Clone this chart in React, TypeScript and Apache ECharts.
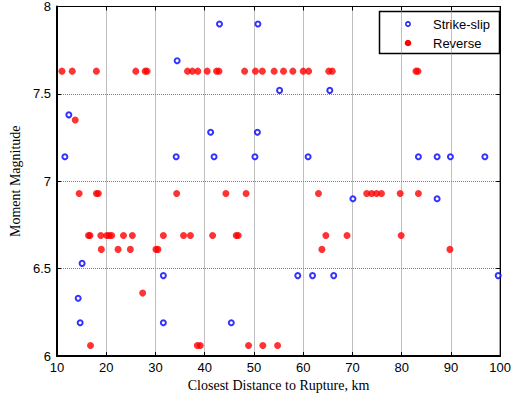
import React, { useEffect, useRef } from "react";
import * as echarts from "echarts";

const xTicks = [10, 20, 30, 40, 50, 60, 70, 80, 90, 100];
const yTicks = [6, 6.5, 7, 7.5, 8];

const seriesNames = ["Strike-slip", "Reverse"];

const strikeSlipDistance = [
  43.0, 50.8, 34.4, 55.2, 65.4, 12.4, 41.2, 50.7,
  11.6, 34.2, 41.9, 50.2, 61.0, 83.4, 87.2, 89.9, 96.9,
  70.1, 87.2, 15.1, 31.6, 58.9, 61.9, 66.2, 99.6,
  14.3, 14.7, 31.6, 45.4,
];
const strikeSlipMagnitude = [
  7.9, 7.9, 7.69, 7.52, 7.52, 7.38, 7.28, 7.28,
  7.14, 7.14, 7.14, 7.14, 7.14, 7.14, 7.14, 7.14, 7.14,
  6.9, 6.9, 6.53, 6.46, 6.46, 6.46, 6.46, 6.46,
  6.33, 6.19, 6.19, 6.19,
];

const reverseDistance = [
  11.0, 13.1, 18.0, 26.0, 27.9, 28.3, 36.5, 37.5, 38.6, 40.5, 42.4, 42.9,
  48.1, 50.3, 51.7, 54.1, 56.0, 57.9, 60.0, 61.1, 65.2, 65.9, 82.9, 83.3,
  13.7,
  14.5, 18.0, 18.4, 34.3, 44.3, 48.4, 63.1, 72.9, 73.9, 74.9, 75.9, 79.7, 83.4,
  16.4, 16.7, 18.9, 20.1, 20.6, 21.1, 23.5, 25.3, 31.6, 35.7, 37.1, 41.6,
  46.4, 46.8, 64.6, 68.9, 79.9,
  19.0, 22.4, 24.9, 30.1, 30.5, 63.8, 89.8,
  27.4,
  16.8, 38.5, 39.1, 48.9, 51.8, 54.8,
];
const reverseMagnitude = [
  7.63, 7.63, 7.63, 7.63, 7.63, 7.63, 7.63, 7.63, 7.63, 7.63, 7.63, 7.63,
  7.63, 7.63, 7.63, 7.63, 7.63, 7.63, 7.63, 7.63, 7.63, 7.63, 7.63, 7.63,
  7.35,
  6.93, 6.93, 6.93, 6.93, 6.93, 6.93, 6.93, 6.93, 6.93, 6.93, 6.93, 6.93, 6.93,
  6.69, 6.69, 6.69, 6.69, 6.69, 6.69, 6.69, 6.69, 6.69, 6.69, 6.69, 6.69,
  6.69, 6.69, 6.69, 6.69, 6.69,
  6.61, 6.61, 6.61, 6.61, 6.61, 6.61, 6.61,
  6.36,
  6.06, 6.06, 6.06, 6.06, 6.06, 6.06,
];

const SANS = "'Liberation Sans', Arial, sans-serif";
const SERIF = "'Liberation Serif', 'Times New Roman', serif";

const BLUE = "#0000ff";
const RED = "#ff0000";

export default function App() {
  const ref = useRef<HTMLDivElement>(null);

  useEffect(() => {
    if (!ref.current) return;
    const chart = echarts.init(ref.current, undefined, { renderer: "svg" });

    const ssData = strikeSlipDistance.map((d, i) => [d, strikeSlipMagnitude[i]]);
    const rvData = reverseDistance.map((d, i) => [d, reverseMagnitude[i]]);

    const xMin = xTicks[0];
    const xMax = xTicks[xTicks.length - 1];
    const xInt = xTicks[1] - xTicks[0];
    const yMin = yTicks[0];
    const yMax = yTicks[yTicks.length - 1];
    const yInt = yTicks[1] - yTicks[0];

    const gridLine = { show: true, lineStyle: { color: "#808080", type: [1, 1], width: 1 } };
    const legendText = { fontSize: 13, fontFamily: SANS, fill: "#000", verticalAlign: "middle", align: "left" };

    chart.setOption({
      animation: false,
      backgroundColor: "#fff",
      grid: {
        left: 57,
        right: 9,
        top: 5,
        bottom: 46,
        show: true,
        borderColor: "#000",
        borderWidth: 1,
        backgroundColor: "transparent",
      },
      graphic: [
        {
          type: "group",
          z: 100,
          children: [
            {
              type: "rect",
              shape: { x: 379.5, y: 11.5, width: 120, height: 42 },
              style: { fill: "#fff", stroke: "#000", lineWidth: 1.5 },
            },
            {
              type: "circle",
              shape: { cx: 408, cy: 24, r: 2.2 },
              style: { fill: "#fff", stroke: BLUE, lineWidth: 1.3 },
            },
            { type: "text", x: 433, y: 24.5, style: { ...legendText, text: seriesNames[0] } },
            {
              type: "circle",
              shape: { cx: 408, cy: 43, r: 3.3 },
              style: { fill: RED },
            },
            { type: "text", x: 433, y: 43.5, style: { ...legendText, text: seriesNames[1] } },
          ],
        },
      ],
      xAxis: [
        {
          type: "value",
          min: xMin,
          max: xMax,
          interval: xInt,
          position: "bottom",
          name: "Closest Distance to Rupture, km",
          nameLocation: "middle",
          nameGap: 22,
          nameTextStyle: { fontFamily: SERIF, fontSize: 14, color: "#000" },
          axisLine: { show: true, onZero: false, lineStyle: { color: "#000", width: 2 } },
          axisTick: { show: true, inside: true, length: 4, lineStyle: { color: "#000" } },
          axisLabel: { color: "#000", fontSize: 13, fontFamily: SANS, margin: 5 },
          splitLine: gridLine,
        },
        {
          type: "value",
          min: xMin,
          max: xMax,
          interval: xInt,
          position: "top",
          axisLine: { show: true, onZero: false, lineStyle: { color: "#000", width: 1 } },
          axisTick: { show: true, inside: true, length: 4, lineStyle: { color: "#000" } },
          axisLabel: { show: false },
          splitLine: { show: false },
        },
      ],
      yAxis: [
        {
          type: "value",
          min: yMin,
          max: yMax,
          interval: yInt,
          position: "left",
          name: "Moment Magnitude",
          nameLocation: "middle",
          nameGap: 32,
          nameTextStyle: { fontFamily: SERIF, fontSize: 14, color: "#000" },
          axisLine: { show: true, onZero: false, lineStyle: { color: "#000", width: 2 } },
          axisTick: { show: true, inside: true, length: 4, lineStyle: { color: "#000" } },
          axisLabel: { color: "#000", fontSize: 13, fontFamily: SANS, margin: 6 },
          splitLine: gridLine,
        },
        {
          type: "value",
          min: yMin,
          max: yMax,
          interval: yInt,
          position: "right",
          axisLine: { show: true, onZero: false, lineStyle: { color: "#000", width: 1 } },
          axisTick: { show: true, inside: true, length: 4, lineStyle: { color: "#000" } },
          axisLabel: { show: false },
          splitLine: { show: false },
        },
      ],
      series: [
        {
          name: seriesNames[0],
          type: "scatter",
          xAxisIndex: 0,
          yAxisIndex: 0,
          symbol: "emptyCircle",
          symbolSize: 5,
          itemStyle: { color: BLUE, borderColor: BLUE, borderWidth: 1.3 },
          data: ssData,
        },
        {
          name: seriesNames[1],
          type: "scatter",
          xAxisIndex: 0,
          yAxisIndex: 0,
          symbol: "circle",
          symbolSize: 7,
          itemStyle: { color: RED },
          data: rvData,
        },
      ],
    });

    return () => chart.dispose();
  }, []);

  return (
    <div
      ref={ref}
      style={{ position: "absolute", left: 0, top: 0, width: 514, height: 402, background: "#fff" }}
    />
  );
}
